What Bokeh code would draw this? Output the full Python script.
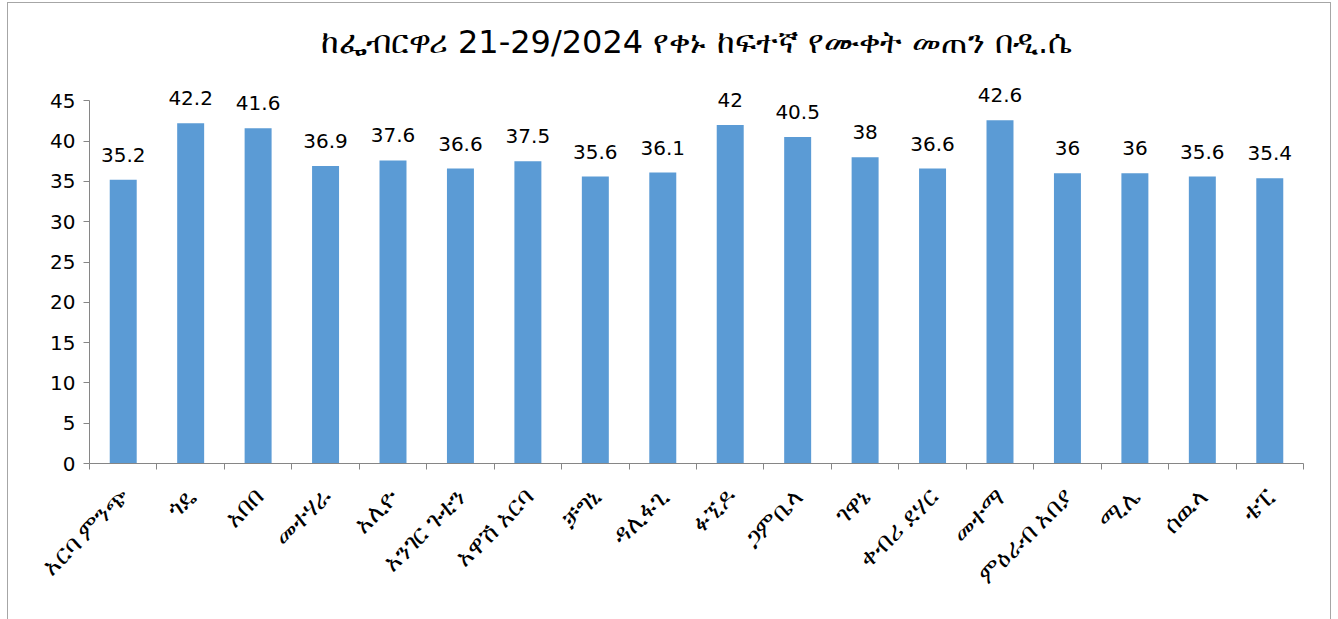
from bokeh.plotting import figure
from bokeh.models import ColumnDataSource, LabelSet, FixedTicker, Title
from bokeh.core.properties import value
from bokeh.embed import file_html
from bokeh.resources import INLINE
import math

stations = ["አርባ ምንጭ", "ጎዴ", "አበበ", "መተሃራ", "አሊዮ", "አንገር ጉቲን", "አዋሽ አርባ",
            "ቻግኒ", "ዳሊፋጊ", "ፉኚዶ", "ጋምቤላ", "ገዋኔ", "ቀብሪ ደሃር", "መተማ",
            "ምዕራብ አበያ", "ሚሌ", "ሰዉላ", "ቴፒ"]
max_temp = [35.2, 42.2, 41.6, 36.9, 37.6, 36.6, 37.5, 35.6, 36.1, 42, 40.5, 38,
            36.6, 42.6, 36, 36, 35.6, 35.4]
y_ticks = [0, 5, 10, 15, 20, 25, 30, 35, 40, 45]
title_text = "ከፌብርዋሪ 21-29/2024 የቀኑ ከፍተኛ የሙቀት መጠን በዲ.ሴ"

n = len(stations)
xs = [i + 0.5 for i in range(n)]
src = ColumnDataSource(dict(x=xs, top=max_temp,
                            lbl=[("%g" % v) for v in max_temp]))

p = figure(width=1324, height=640, output_backend="svg", toolbar_location=None,
           x_range=(0, n), y_range=(0, 50),
           min_border_left=81, min_border_right=29, min_border_top=57,
           min_border_bottom=180)
p.styles = {"border": "1px solid #a6a6a6", "margin-left": "7px",
            "margin-top": "2px"}
p.title = Title(text=title_text, align="center", text_font_size="32px",
                text_font="DejaVu Sans", text_font_style="normal",
                text_color="#000000", standoff=0)
p.outline_line_color = None
p.xgrid.visible = False
p.ygrid.visible = False
p.background_fill_color = "white"
p.border_fill_color = "white"

p.vbar(x="x", top="top", width=0.4, source=src, fill_color="#5B9BD5",
       line_color=None)

labels = LabelSet(x="x", y="top", text="lbl", source=src, text_align="center",
                  text_baseline="bottom", y_offset=18,
                  text_font_size=value("20px"),
                  text_font=value("DejaVu Sans"), text_color="#000000")
p.add_layout(labels)

# x axis
p.xaxis.ticker = FixedTicker(ticks=xs, minor_ticks=list(range(n + 1)))
p.xaxis.major_label_overrides = {x: s for x, s in zip(xs, stations)}
p.xaxis.major_label_orientation = math.pi / 4
p.xaxis.major_tick_out = 0
p.xaxis.major_tick_in = 0
p.xaxis.minor_tick_out = 6
p.xaxis.minor_tick_in = 0
p.xaxis.minor_tick_line_color = "#868686"
p.xaxis.axis_line_color = "#868686"
p.xaxis.major_label_text_font_size = "25px"
p.xaxis.major_label_text_font = "Noto Sans"
p.xaxis.major_label_text_color = "#000000"
p.xaxis.major_label_standoff = 22

# y axis
p.yaxis.ticker = FixedTicker(ticks=y_ticks)
p.yaxis.bounds = (0, 45)
p.yaxis.major_tick_out = 6
p.yaxis.major_tick_in = 0
p.yaxis.minor_tick_line_color = None
p.yaxis.major_tick_line_color = "#868686"
p.yaxis.axis_line_color = "#868686"
p.yaxis.major_label_text_font_size = "20px"
p.yaxis.major_label_text_font = "DejaVu Sans"
p.yaxis.major_label_text_color = "#000000"
p.yaxis.major_label_standoff = 8

open("out.html", "w").write(file_html(p, INLINE))
